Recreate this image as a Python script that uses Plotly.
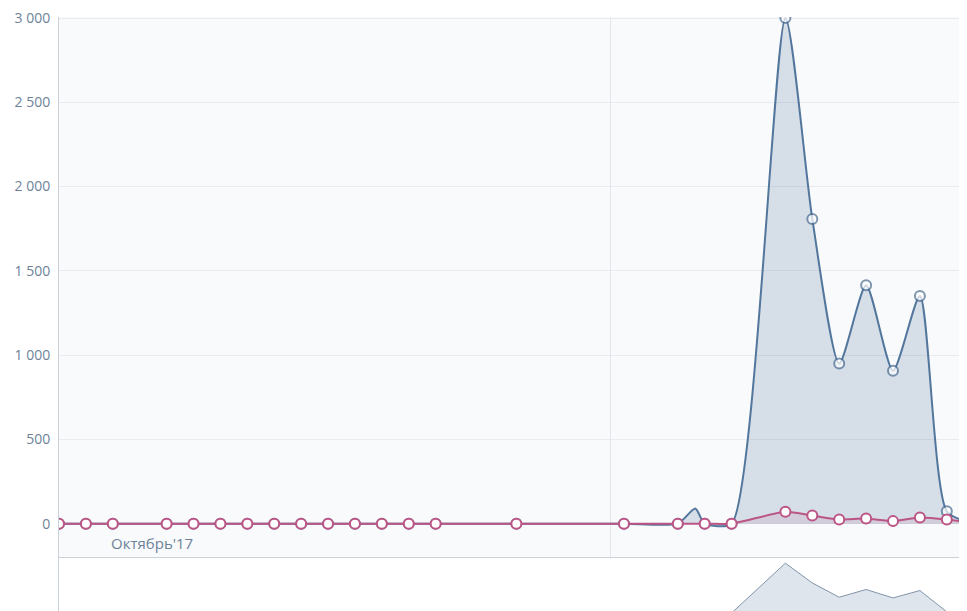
import plotly.graph_objects as go

# ---- data ----
days = list(range(35))
pink_values = [0, 0, 0, None, 0, 0, 0, 0, 0, 0, 0, 0, 0, 0, 0, None, None, 0,
               None, None, None, 0, None, 0, 0, 0, None, 70, 48, 25, 30, 15, 37, 25, 3]
blue_days = [0, 1, 2, 4, 5, 6, 7, 8, 9, 10, 11, 12, 13, 14, 17, 21, 23, 23.65, 24, 25,
             27, 28, 29, 30, 31, 32, 33, 34]
blue_values = [0, 0, 0, 0, 0, 0, 0, 0, 0, 0, 0, 0, 0, 0, 0, 0, 0, 90, 0, 0,
               3000, 1808, 950, 1414, 907, 1351, 73, 0]
y_ticks = [0, 500, 1000, 1500, 2000, 2500, 3000]
y_tick_labels = ["0", "500", "1 000", "1 500", "2 000", "2 500", "3 000"]
month_label = "Октябрь'17"
month_label_day = 3.46
month_boundary_day = 20.5

BLUE = "#52769c"
PINK = "#bb5585"
TXT = "#6d8299"

blue_marker_sizes = [10 if float(d).is_integer() else 0 for d in blue_days]

fig = go.Figure()

# main chart
fig.add_trace(go.Scatter(
    x=blue_days, y=blue_values, mode="lines+markers",
    line=dict(color=BLUE, width=2, shape="spline", smoothing=0.65),
    fill="tozeroy", fillcolor="rgba(90,125,163,0.22)",
    marker=dict(size=blue_marker_sizes, color="white", line=dict(color="#4a6c91", width=2)),
    xaxis="x", yaxis="y", showlegend=False, hoverinfo="skip"))
fig.add_trace(go.Scatter(
    x=days, y=pink_values, mode="lines+markers", connectgaps=True,
    line=dict(color=PINK, width=2, shape="spline", smoothing=0.6),
    fill="tozeroy", fillcolor="rgba(187,85,133,0.13)",
    marker=dict(size=10, color="white", line=dict(color=PINK, width=2)),
    xaxis="x", yaxis="y", showlegend=False, hoverinfo="skip"))

# navigator
fig.add_trace(go.Scatter(
    x=blue_days, y=blue_values, mode="lines",
    line=dict(color="#8094aa", width=1),
    fill="tozeroy", fillcolor="rgba(90,125,163,0.2)",
    xaxis="x2", yaxis="y2", showlegend=False, hoverinfo="skip"))
fig.add_trace(go.Scatter(
    x=days, y=pink_values, mode="lines", connectgaps=True,
    line=dict(color="#b0789a", width=1),
    fill="tozeroy", fillcolor="rgba(187,85,133,0.15)",
    xaxis="x2", yaxis="y2", showlegend=False, hoverinfo="skip"))

xr = [0, 33.75]
fig.update_layout(
    width=959, height=603,
    margin=dict(l=51, r=0, t=7, b=0),
    paper_bgcolor="white", plot_bgcolor="white",
    font=dict(family="Open Sans, sans-serif", size=14, color=TXT),
    xaxis=dict(domain=[0, 1], range=xr, showgrid=False, zeroline=False,
               showticklabels=False, ticks="", showline=True,
               linecolor="#c9d1da", linewidth=1, anchor="y"),
    yaxis=dict(domain=[0.0906, 1], range=[-199, 3006], tickvals=y_ticks,
               ticktext=y_tick_labels, showgrid=True, gridcolor="#e8ebef",
               gridwidth=1, zeroline=False, showline=True, linecolor="#c9d1da",
               linewidth=1, ticks="", ticklabelstandoff=5,
               ticklabeloverflow="allow",
               tickfont=dict(size=14, color=TXT), anchor="x"),
    xaxis2=dict(domain=[0, 1], range=xr, showgrid=False, zeroline=False,
                showticklabels=False, ticks="", showline=False, anchor="y2"),
    yaxis2=dict(domain=[0, 0.0889], range=[120, 3300], showgrid=False,
                zeroline=False, showticklabels=False, ticks="", showline=True,
                linecolor="#c9d1da", linewidth=1, anchor="x2"),
    shapes=[
        dict(type="rect", xref="x domain", yref="y domain", x0=0, x1=1, y0=0, y1=1,
             fillcolor="#f9fafb", line=dict(width=0), layer="below"),
        dict(type="line", xref="x", yref="y domain", x0=month_boundary_day,
             x1=month_boundary_day, y0=0, y1=1, line=dict(color="#e1e6ec", width=1),
             layer="below"),
        dict(type="path", xref="paper", yref="paper",
             path="M 0.7698 1.04 L 0.7698 1.0252 Q 0.7698 1.0201 0.7731 1.0201 "
                  "L 0.8634 1.0201 Q 0.8667 1.0201 0.8667 1.0252 L 0.8667 1.04 Z",
             fillcolor="#5b7ca2", line=dict(color="#4b6b91", width=1)),
    ],
    annotations=[
        dict(x=month_label_day, y=-117, xref="x", yref="y", text=month_label,
             showarrow=False, font=dict(size=15, color=TXT))
    ],
)

fig.write_html("out.html")
